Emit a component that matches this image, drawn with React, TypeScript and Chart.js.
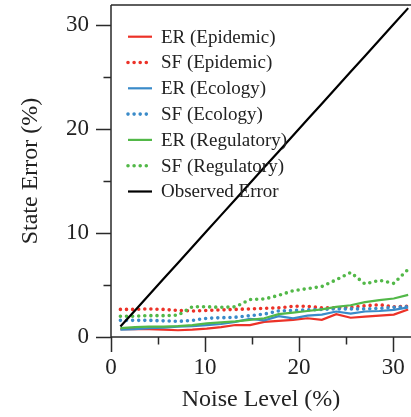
import React, { useEffect, useRef } from 'react';
import { Chart, registerables } from 'chart.js';

Chart.register(...registerables);

const noiseLevels = [1.0, 2.53, 4.06, 5.59, 7.12, 8.65, 10.18, 11.71, 13.24, 14.77, 16.3, 17.83, 19.36, 20.89, 22.42, 23.95, 25.48, 27.01, 28.54, 30.07, 31.6];
const erEpidemic = [0.75, 0.75, 0.75, 0.7, 0.65, 0.7, 0.8, 0.95, 1.15, 1.15, 1.45, 1.55, 1.65, 1.8, 1.65, 2.2, 1.85, 1.95, 2.05, 2.15, 2.65];
const sfEpidemic = [2.65, 2.65, 2.7, 2.65, 2.55, 2.5, 2.55, 2.6, 2.65, 2.7, 2.75, 2.8, 2.95, 2.95, 2.8, 2.8, 2.85, 3.0, 3.1, 2.9, 2.95];
const erEcology = [0.7, 0.75, 0.85, 0.9, 1.0, 1.05, 1.15, 1.25, 1.45, 1.75, 1.6, 2.0, 1.8, 2.05, 2.15, 2.45, 2.25, 2.45, 2.5, 2.6, 2.85];
const sfEcology = [1.6, 1.6, 1.6, 1.55, 1.5, 1.6, 1.8, 1.85, 1.9, 2.05, 2.2, 2.5, 2.55, 2.6, 2.65, 2.7, 2.7, 2.7, 2.75, 2.85, 2.9];
const erRegulatory = [0.85, 0.95, 1.0, 1.0, 1.05, 1.15, 1.3, 1.4, 1.5, 1.65, 1.8, 2.2, 2.35, 2.5, 2.65, 2.9, 3.05, 3.35, 3.55, 3.7, 4.05];
const sfRegulatory = [2.0, 2.0, 2.05, 2.05, 2.1, 2.9, 2.9, 2.85, 2.9, 3.6, 3.65, 4.0, 4.45, 4.65, 4.85, 5.5, 6.2, 5.1, 5.45, 5.15, 6.5];
const observedError = [1.0, 2.53, 4.06, 5.59, 7.12, 8.65, 10.18, 11.71, 13.24, 14.77, 16.3, 17.83, 19.36, 20.89, 22.42, 23.95, 25.48, 27.01, 28.54, 30.07, 31.6];

const seriesLabels = ['ER (Epidemic)', 'SF (Epidemic)', 'ER (Ecology)', 'SF (Ecology)', 'ER (Regulatory)', 'SF (Regulatory)', 'Observed Error'];
const xTicks = [0, 10, 20, 30];
const yTicks = [0, 10, 20, 30];
const xMinorTicks = [5, 15, 25];
const yMinorTicks = [5, 15, 25];

const RED = '#ec3228';
const BLUE = '#3a8bc9';
const GREEN = '#52b848';
const BLACK = '#000000';
const FONT = "'Liberation Serif', serif";
const AXIS = '#2a2a2a';

const decorPlugin = {
  id: 'decor',
  afterDraw(chart: any) {
    const { ctx, chartArea, scales } = chart;
    const { left, right, top, bottom } = chartArea;
    const xs = scales.x;
    const ys = scales.y;
    ctx.save();
    ctx.strokeStyle = AXIS;
    ctx.lineWidth = 1.5;
    ctx.lineCap = 'butt';
    ctx.beginPath();
    ctx.moveTo(left, top);
    ctx.lineTo(left, bottom);
    ctx.moveTo(left, bottom);
    ctx.lineTo(right, bottom);
    ctx.moveTo(left, top);
    ctx.lineTo(right, top);
    for (const v of xTicks) {
      const p = Math.round(xs.getPixelForValue(v)) + 0.5;
      ctx.moveTo(p, bottom);
      ctx.lineTo(p, bottom + 15);
    }
    for (const v of xMinorTicks) {
      const p = Math.round(xs.getPixelForValue(v)) + 0.5;
      ctx.moveTo(p, bottom);
      ctx.lineTo(p, bottom + 7.5);
    }
    for (const v of yTicks) {
      const p = Math.round(ys.getPixelForValue(v)) + 0.5;
      ctx.moveTo(left, p);
      ctx.lineTo(left - 15, p);
    }
    for (const v of yMinorTicks) {
      const p = Math.round(ys.getPixelForValue(v)) + 0.5;
      ctx.moveTo(left, p);
      ctx.lineTo(left - 7.5, p);
    }
    ctx.stroke();

    // legend
    ctx.font = `19px ${FONT}`;
    ctx.textBaseline = 'middle';
    ctx.textAlign = 'left';
    chart.data.datasets.forEach((ds: any, i: number) => {
      const y = top + 31.7 + i * 25.8;
      ctx.beginPath();
      ctx.strokeStyle = ds.borderColor;
      ctx.lineWidth = ds.borderWidth;
      ctx.lineCap = ds.borderDash && ds.borderDash.length ? 'round' : 'butt';
      ctx.setLineDash(ds.borderDash || []);
      ctx.moveTo(left + 17, y);
      ctx.lineTo(left + 41, y);
      ctx.stroke();
      ctx.setLineDash([]);
      ctx.fillStyle = '#222';
      ctx.fillText(ds.label, left + 50, y + 1);
    });
    ctx.restore();
  },
};

function makeDataset(label: string, values: number[], color: string, dotted: boolean, idx: number) {
  return {
    label,
    data: noiseLevels.map((x, i) => ({ x, y: values[i] })),
    borderColor: color,
    backgroundColor: color,
    borderWidth: dotted ? 3.6 : 2.2,
    borderDash: dotted ? [0, 6.1] : [],
    borderCapStyle: dotted ? 'round' : 'butt',
    pointRadius: 0,
    tension: 0,
    fill: false,
    order: 10 - idx,
  };
}

export default function App() {
  const ref = useRef<HTMLCanvasElement>(null);
  useEffect(() => {
    if (!ref.current) return;
    const chart = new Chart(ref.current, {
      type: 'line',
      data: {
        datasets: [
          makeDataset(seriesLabels[0], erEpidemic, RED, false, 0),
          makeDataset(seriesLabels[1], sfEpidemic, RED, true, 1),
          makeDataset(seriesLabels[2], erEcology, BLUE, false, 2),
          makeDataset(seriesLabels[3], sfEcology, BLUE, true, 3),
          makeDataset(seriesLabels[4], erRegulatory, GREEN, false, 4),
          makeDataset(seriesLabels[5], sfRegulatory, GREEN, true, 5),
          makeDataset(seriesLabels[6], observedError, BLACK, false, 6),
        ] as any,
      },
      options: {
        animation: false,
        responsive: false,
        devicePixelRatio: 1,
        layout: { padding: { top: 5, left: 0, right: 0, bottom: 0 } },
        plugins: { legend: { display: false }, tooltip: { enabled: false } },
        scales: {
          x: {
            type: 'linear',
            min: 0,
            max: 31.9,
            grid: { display: false, drawTicks: false, tickLength: 0 },
            border: { display: false },
            afterBuildTicks: (s: any) => { s.ticks = xTicks.map((v) => ({ value: v })); },
            afterFit: (s: any) => { s.height = 80; s.paddingLeft = 0; s.paddingRight = 0; },
            ticks: {
              padding: 17,
              maxRotation: 0,
              autoSkip: false,
              color: '#222',
              font: { family: FONT, size: 23 },
              callback: (v: any) => String(v),
            },
            title: {
              display: true,
              text: 'Noise Level (%)',
              color: '#222',
              font: { family: FONT, size: 24 },
              padding: { top: 0, bottom: 3 },
            },
          },
          y: {
            type: 'linear',
            min: 0,
            max: 31.9,
            grid: { display: false, drawTicks: false, tickLength: 0 },
            border: { display: false },
            afterBuildTicks: (s: any) => { s.ticks = yTicks.map((v) => ({ value: v })); },
            afterFit: (s: any) => { s.width = 111; s.paddingTop = 0; s.paddingBottom = 0; },
            ticks: {
              padding: 22,
              autoSkip: false,
              color: '#222',
              font: { family: FONT, size: 23 },
              callback: (v: any) => String(v),
            },
            title: {
              display: true,
              text: 'State Error (%)',
              color: '#222',
              font: { family: FONT, size: 24 },
              padding: { top: 16, bottom: 0 },
            },
          },
        },
      } as any,
      plugins: [decorPlugin],
    });
    return () => chart.destroy();
  }, []);
  return (
    <div style={{ position: 'absolute', left: 0, top: 0, width: 411, height: 417, background: '#fff' }}>
      <canvas ref={ref} width={411} height={417} style={{ display: 'block' }} />
    </div>
  );
}
